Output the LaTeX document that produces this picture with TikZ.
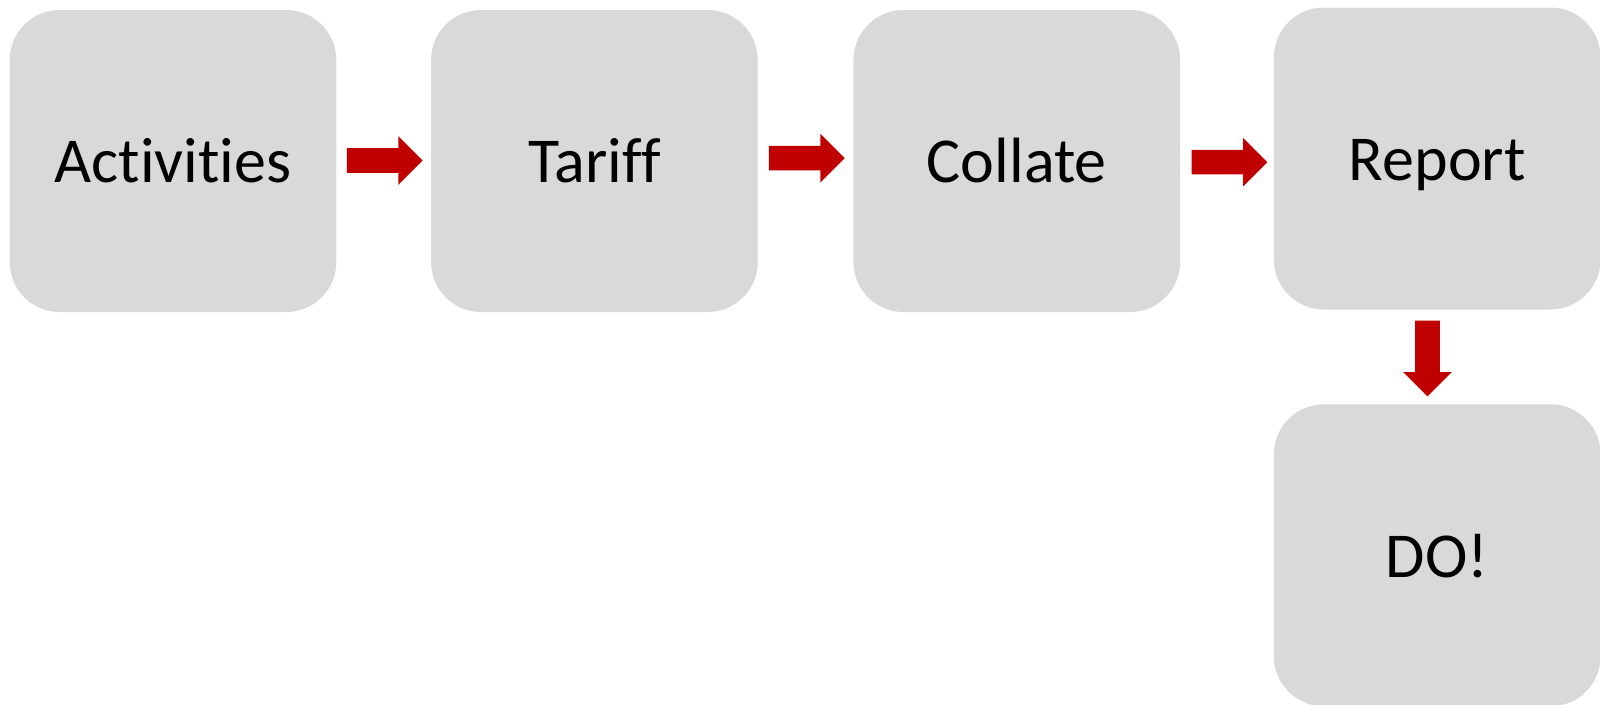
\documentclass[tikz,border=0pt]{standalone}
\usepackage{fontspec}
\setmainfont{Carlito}[Ligatures=NoCommon]
\usetikzlibrary{shapes.arrows,calc}
\definecolor{boxgray}{HTML}{D9D9D9}
\definecolor{arrowred}{HTML}{C00000}
\begin{document}
\begin{tikzpicture}[x=0.75pt,y=-0.75pt,
  stepbox/.style={fill=boxgray, draw=none, rounded corners=37.5pt,
    minimum width=245pt, minimum height=226.5pt, inner sep=0pt,
    text height=32.6pt, text depth=0pt,
    font=\fontsize{48}{58}\selectfont, text=black},
  blockarrow/.style={single arrow, fill=arrowred, draw=none,
    minimum height=56.8pt, minimum width=0pt, inner sep=0pt,
    text height=9pt, text depth=9pt, text width=0pt,
    single arrow head extend=9pt, single arrow head indent=0pt,
    single arrow tip angle=90, anchor=tail}]
\useasboundingbox (0,0) rectangle (1600,704);
\node[stepbox] (act) at (173,161) {Activities};
\node[stepbox] (tar) at (594.4,161) {Tariff};
\node[stepbox] (col) at (1016.8,161) {Collate};
\node[stepbox] (rep) at (1437.2,158.5) {Report};
\node[stepbox] (do) at (1437.2,555.3) {DO!};
\node[blockarrow] (a1) at ($(act.east)+(10,-0.5)$) {};
\node[blockarrow] (a2) at ($(tar.east)+(10.7,-2.8)$) {};
\node[blockarrow] (a3) at ($(col.east)+(11,1.2)$) {};
\node[blockarrow, rotate=-90] (a4) at ($(rep.south)+(-9.7,10.5)$) {};
\end{tikzpicture}
\end{document}
